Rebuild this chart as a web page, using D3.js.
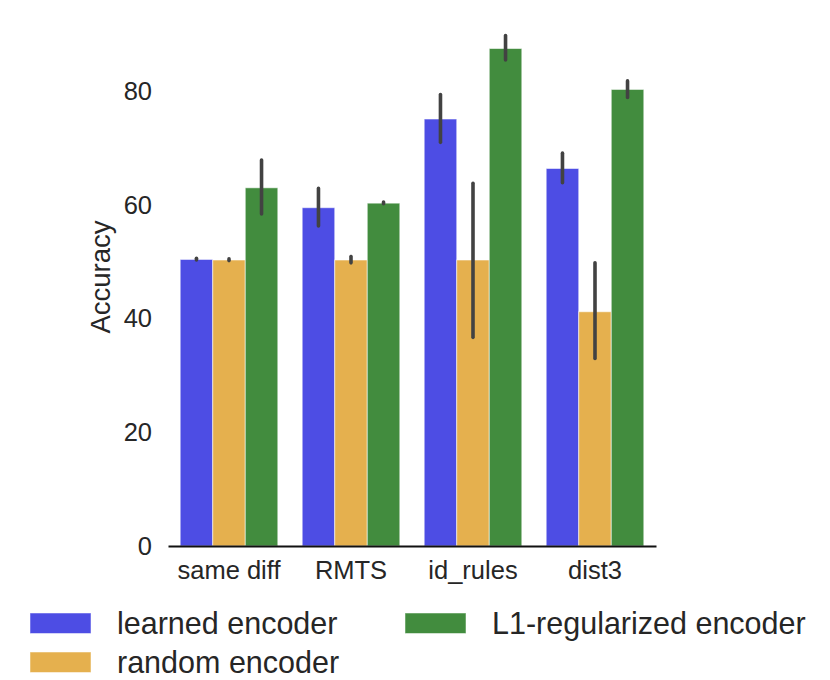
<!DOCTYPE html>
<html>
<head>
<meta charset="utf-8">
<script src="https://d3js.org/d3.v7.min.js"></script>
<style>
  body { margin: 0; background: #fff; }
  text { font-family: "Liberation Sans", Arial, sans-serif; fill: #262626; }
</style>
</head>
<body>
<script>
// data
var categories = ["same diff", "RMTS", "id_rules", "dist3"];
var seriesNames = ["learned encoder", "random encoder", "L1-regularized encoder"];

var learned   = [50.4, 59.5, 75.1, 66.4];
var learnedLo = [50.3, 56.3, 71.0, 63.9];
var learnedHi = [50.6, 62.9, 79.4, 69.1];

var random   = [50.3, 50.3, 50.3, 41.2];
var randomLo = [50.2, 49.8, 36.7, 33.0];
var randomHi = [50.5, 50.9, 63.8, 49.8];

var l1   = [63.0, 60.3, 87.5, 80.3];
var l1Lo = [58.4, 60.2, 85.5, 78.9];
var l1Hi = [67.9, 60.5, 89.8, 81.8];

var yTicks = [0, 20, 40, 60, 80];

var colors = ["#4d4de4", "#e5b04e", "#428c3e"];

//set up svg
var width = 830;
var height = 680;

var svg = d3.select("body").append("svg")
  .attr("width", width)
  .attr("height", height);

// scales
var xChart = d3.scaleBand()
  .domain(categories)
  .range([168, 656])
  .paddingInner(0.2)
  .paddingOuter(0.1);

var xHue = d3.scaleBand()
  .domain(seriesNames)
  .range([0, xChart.bandwidth()]);

var yChart = d3.scaleLinear()
  .domain([0, 90])
  .range([546, 34.3]);

// build rows for the bars
var values = [learned, random, l1];
var lows = [learnedLo, randomLo, l1Lo];
var highs = [learnedHi, randomHi, l1Hi];

var rows = [];
seriesNames.forEach(function(s, si) {
  categories.forEach(function(c, ci) {
    rows.push({cat: c, series: s, idx: si, v: values[si][ci], lo: lows[si][ci], hi: highs[si][ci]});
  });
});

//bars
svg.selectAll(".bar")
  .data(rows)
  .enter()
  .append("rect")
  .attr("class", "bar")
  .attr("x", function(d) { return xChart(d.cat) + xHue(d.series); })
  .attr("y", function(d) { return yChart(d.v); })
  .attr("width", xHue.bandwidth())
  .attr("height", function(d) { return yChart(0) - yChart(d.v); })
  .attr("fill", function(d) { return colors[d.idx]; })
  .attr("stroke", "#ffffff")
  .attr("stroke-opacity", 0.55)
  .attr("stroke-width", 1);

//error bars
svg.selectAll(".err")
  .data(rows)
  .enter()
  .append("line")
  .attr("class", "err")
  .attr("x1", function(d) { return xChart(d.cat) + xHue(d.series) + xHue.bandwidth() / 2; })
  .attr("x2", function(d) { return xChart(d.cat) + xHue(d.series) + xHue.bandwidth() / 2; })
  .attr("y1", function(d) { return yChart(d.lo); })
  .attr("y2", function(d) { return yChart(d.hi); })
  .attr("stroke", "#424242")
  .attr("stroke-width", 3.6)
  .attr("stroke-linecap", "round");

//left axis, no spine
var yAxis = d3.axisLeft(yChart)
  .tickValues(yTicks)
  .tickSize(0)
  .tickPadding(16);

var gy = svg.append("g")
  .attr("class", "y axis")
  .attr("transform", "translate(168,0)")
  .call(yAxis);
gy.select(".domain").remove();
gy.selectAll("text")
  .style("font-size", "25.5px")
  .attr("fill", "#262626");

//bottom axis
var xAxis = d3.axisBottom(xChart).tickSize(0);

var gx = svg.append("g")
  .attr("class", "xAxis")
  .attr("transform", "translate(0,546)")
  .call(xAxis);
gx.select(".domain")
  .attr("stroke", "#111")
  .attr("stroke-width", 2);
gx.selectAll("text")
  .style("font-size", "25.5px")
  .attr("fill", "#262626")
  .attr("y", 33)
  .attr("dy", 0);

//y label
svg.append("text")
  .attr("transform", "translate(110,277) rotate(-90)")
  .attr("text-anchor", "middle")
  .style("font-size", "27.5px")
  .text("Accuracy");

//legend
var legendPos = [[30, 613], [30, 652], [405, 613]];

var legend = svg.selectAll(".legend")
  .data(seriesNames)
  .enter()
  .append("g")
  .attr("class", "legend")
  .attr("transform", function(d, i) {
    return "translate(" + legendPos[i][0] + "," + legendPos[i][1] + ")";
  });

legend.append("rect")
  .attr("width", 61)
  .attr("height", 20.5)
  .attr("fill", function(d, i) { return colors[i]; })
  .attr("stroke", "#ffffff")
  .attr("stroke-opacity", 0.5);

legend.append("text")
  .attr("x", 87)
  .attr("y", 21)
  .style("font-size", "30.5px")
  .text(function(d) { return d; });
</script>
</body>
</html>
